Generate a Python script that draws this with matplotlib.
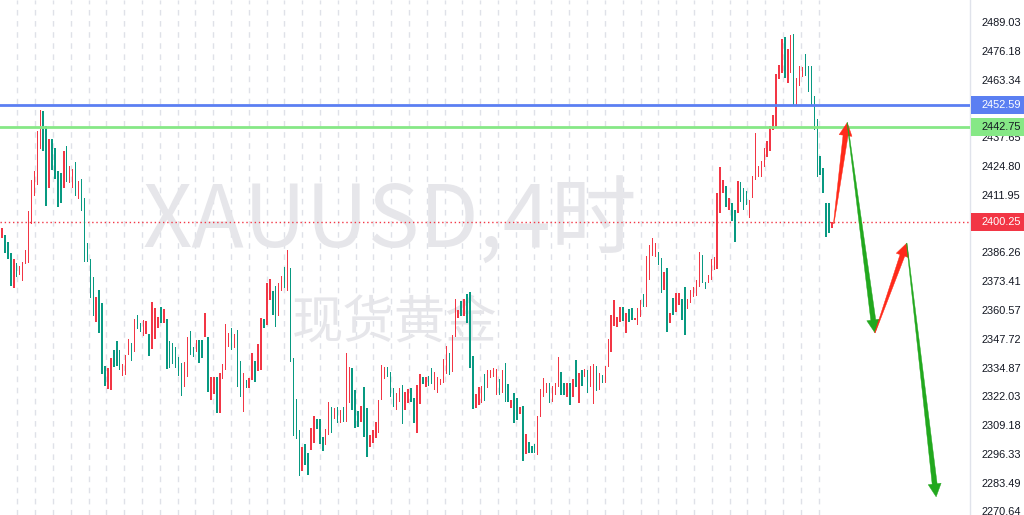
import matplotlib
matplotlib.use("Agg")
import matplotlib.pyplot as plt
import matplotlib.transforms as mtrans
from matplotlib.patches import Polygon, Rectangle
import numpy as np

# ---------------- data (4h candles, red = up, green = down) ----------------
opens = [
    2393.1, 2394.5, 2391.3, 2386.4, 2370.8, 2382.0, 2376.6, 2373.9, 2381.5, 2382.0,
    2399.4, 2411.9, 2416.8, 2432.8, 2449.8, 2443.1, 2415.4, 2437.3, 2433.3, 2423.0,
    2422.1, 2415.4, 2434.2, 2417.7, 2415.4, 2427.0, 2410.5, 2419.4, 2411.0, 2390.9,
    2383.7, 2375.7, 2355.6, 2369.9, 2364.1, 2336.0, 2325.7, 2325.3, 2343.1, 2347.2,
    2343.1, 2331.5, 2332.0, 2340.9, 2346.3, 2342.2, 2358.8, 2355.2, 2349.4, 2350.3,
    2350.3, 2343.6, 2348.1, 2352.9, 2362.3, 2355.2, 2357.0, 2347.2, 2346.3, 2344.5,
    2340.0, 2337.3, 2326.6, 2331.1, 2351.6, 2344.5, 2342.2, 2347.6, 2347.6, 2348.9,
    2348.9, 2320.8, 2323.5, 2331.1, 2315.0, 2330.2, 2334.2, 2344.5, 2352.9, 2344.0,
    2352.0, 2338.2, 2315.5, 2329.7, 2326.2, 2329.7, 2338.2, 2333.8, 2334.2, 2357.0,
    2354.3, 2365.4, 2369.5, 2371.7, 2358.3, 2369.5, 2380.2, 2369.5, 2379.7, 2339.6,
    2321.3, 2307.4, 2289.2, 2301.2, 2297.2, 2298.5, 2301.6, 2312.3, 2312.3, 2304.3,
    2300.7, 2305.2, 2317.7, 2312.3, 2317.7, 2310.5, 2317.7, 2311.0, 2319.5, 2335.1,
    2325.3, 2315.9, 2311.0, 2326.6, 2317.3, 2299.9, 2301.6, 2303.9, 2306.1, 2320.8,
    2330.2, 2335.6, 2333.3, 2326.2, 2316.4, 2319.9, 2327.5, 2316.4, 2319.5, 2326.2,
    2321.7, 2306.1, 2319.0, 2331.1, 2326.6, 2331.5, 2335.1, 2325.3, 2324.0, 2327.5,
    2328.4, 2332.4, 2341.8, 2333.3, 2348.9, 2357.4, 2365.0, 2358.3, 2368.1, 2369.0,
    2340.5, 2317.3, 2318.6, 2319.5, 2332.4, 2326.2, 2330.6, 2331.1, 2323.1, 2330.2,
    2324.0, 2337.3, 2328.0, 2317.3, 2323.9, 2321.7, 2314.6, 2318.2, 2296.5, 2302.1,
    2300.3, 2301.2, 2296.3, 2313.2, 2322.2, 2324.0, 2328.4, 2319.9, 2323.1, 2326.6,
    2333.3, 2328.4, 2322.2, 2328.4, 2322.2, 2338.7, 2319.5, 2334.2, 2331.1, 2334.2,
    2326.6, 2319.0, 2336.0, 2325.3, 2332.0, 2328.4, 2335.6, 2342.2, 2353.9, 2353.4,
    2355.6, 2362.3, 2350.7, 2361.4, 2361.9, 2356.5, 2354.3, 2357.9, 2368.1, 2362.3,
    2374.4, 2385.1, 2384.6, 2386.9, 2384.2, 2369.9, 2379.7, 2355.2, 2366.3, 2360.1,
    2363.2, 2365.9, 2371.2, 2361.4, 2364.1, 2366.8, 2367.2, 2371.2, 2385.5, 2373.5,
    2373.0, 2374.4, 2378.8, 2379.3, 2404.3, 2413.2, 2416.3, 2405.6, 2408.7, 2405.6,
    2404.3, 2418.1, 2415.4, 2414.1, 2402.0, 2410.9, 2419.0, 2420.3, 2420.3, 2424.8,
    2429.3, 2431.9, 2441.3, 2442.6, 2464.0, 2466.7, 2482.8, 2462.3, 2466.7, 2484.1,
    2452.0, 2460.9, 2464.9, 2475.2, 2469.9, 2469.9, 2456.5, 2446.2, 2429.7, 2424.3,
    2408.7, 2408.7, 2397.6,
]
closes = [
    2397.6, 2386.4, 2383.7, 2371.7, 2383.7, 2375.7, 2380.6, 2382.4, 2387.8, 2405.2,
    2419.0, 2423.0, 2440.9, 2450.2, 2431.9, 2407.4, 2437.3, 2423.5, 2419.4, 2406.9,
    2408.7, 2431.9, 2418.1, 2425.2, 2423.9, 2411.9, 2418.6, 2405.2, 2382.4, 2382.4,
    2366.3, 2358.3, 2366.8, 2350.7, 2332.4, 2327.1, 2335.1, 2339.6, 2335.6, 2336.0,
    2334.2, 2336.9, 2340.9, 2348.0, 2338.2, 2357.0, 2352.5, 2351.2, 2356.5, 2356.1,
    2340.5, 2364.6, 2361.9, 2357.9, 2355.2, 2361.4, 2334.7, 2335.1, 2336.9, 2335.1,
    2331.5, 2322.6, 2337.8, 2348.9, 2340.9, 2340.0, 2347.6, 2337.3, 2339.6, 2359.7,
    2324.4, 2331.1, 2331.1, 2315.0, 2332.9, 2336.9, 2354.7, 2350.7, 2343.1, 2350.3,
    2326.6, 2322.2, 2332.9, 2326.2, 2330.6, 2341.8, 2328.9, 2345.8, 2357.4, 2353.0,
    2373.0, 2374.8, 2358.8, 2353.4, 2373.0, 2376.2, 2370.8, 2387.8, 2337.8, 2304.8,
    2303.4, 2286.9, 2299.9, 2291.8, 2287.4, 2308.3, 2313.7, 2307.9, 2301.2, 2298.1,
    2307.9, 2319.9, 2306.1, 2317.3, 2310.5, 2316.4, 2311.0, 2341.8, 2335.6, 2316.4,
    2308.3, 2308.8, 2318.2, 2304.3, 2295.4, 2305.2, 2307.4, 2311.0, 2320.8, 2336.4,
    2335.6, 2331.1, 2322.2, 2317.7, 2324.0, 2326.2, 2310.1, 2324.4, 2325.7, 2319.9,
    2310.6, 2327.5, 2332.4, 2328.0, 2331.1, 2327.1, 2328.0, 2333.3, 2331.1, 2330.2,
    2339.1, 2344.9, 2332.0, 2349.8, 2365.9, 2361.0, 2358.3, 2365.9, 2355.2, 2335.1,
    2316.8, 2323.5, 2326.6, 2327.1, 2320.4, 2334.2, 2334.2, 2335.1, 2334.7, 2323.1,
    2334.2, 2319.9, 2319.9, 2320.8, 2310.6, 2311.9, 2317.7, 2293.6, 2305.5, 2297.2,
    2297.2, 2297.2, 2313.7, 2325.7, 2330.6, 2328.4, 2319.5, 2327.1, 2328.4, 2340.0,
    2323.1, 2323.1, 2328.4, 2318.6, 2330.2, 2326.6, 2332.9, 2327.1, 2334.7, 2324.0,
    2336.0, 2336.9, 2324.9, 2332.9, 2328.4, 2336.0, 2348.0, 2358.8, 2365.4, 2357.9,
    2362.3, 2356.1, 2359.7, 2355.6, 2356.5, 2357.4, 2361.9, 2365.4, 2362.3, 2385.1,
    2390.0, 2393.1, 2390.9, 2381.1, 2368.6, 2377.9, 2351.2, 2359.7, 2358.8, 2368.6,
    2368.6, 2356.5, 2349.8, 2365.9, 2369.9, 2371.2, 2374.4, 2386.9, 2373.0, 2370.3,
    2376.6, 2383.8, 2384.6, 2413.2, 2424.8, 2419.0, 2406.9, 2411.0, 2400.7, 2391.3,
    2418.6, 2409.2, 2405.6, 2407.8, 2410.1, 2420.8, 2440.0, 2425.2, 2427.5, 2433.3,
    2436.4, 2443.1, 2448.0, 2466.3, 2470.3, 2481.9, 2464.5, 2477.4, 2483.7, 2452.5,
    2464.5, 2469.9, 2469.4, 2465.4, 2458.3, 2452.5, 2441.3, 2420.3, 2421.2, 2413.2,
    2393.6, 2395.4, 2400.25,
]

level_blue = 2452.59
level_green = 2442.75
last_price = 2400.25
tick_labels = ["2489.03", "2476.18", "2463.34", "2437.65", "2424.80", "2411.95",
               "2386.26", "2373.41", "2360.57", "2347.72", "2334.87", "2322.03",
               "2309.18", "2296.33", "2283.49", "2270.64"]
watermark_title = "XAUUSD,4时"
watermark_sub = "现货黄金"

# projected path drawn with arrows: (bar position, price)
path_x = [282.6, 287.2, 296.6, 307.4, 317.4]
path_y = [2399.5, 2444.6, 2350.8, 2390.8, 2277.6]
path_colors = ["#ff2a1a", "#22a81e", "#ff2a1a", "#22a81e"]

# ---------------- figure ----------------
W, H = 1024, 515
fig = plt.figure(figsize=(W / 100, H / 100), dpi=100)
fig.patch.set_facecolor("white")
ax = fig.add_axes([0, 0, 970 / W, 1])
ax.set_facecolor("white")
for s in ax.spines.values():
    s.set_visible(False)
ax.spines["right"].set_visible(True)
ax.spines["right"].set_color("#e0e3eb")
ax.spines["right"].set_linewidth(1)
ax.set_xticks([])
ax.set_yticks([])

n = len(opens)
xs = np.arange(n)
ax.set_xlim(-0.68, 328.9)
ax.set_ylim(2269.5, 2499.31)

# vertical dashed grid (one per trading day)
for gx in 5.2 + 6.05 * np.arange(46):
    ax.axvline(gx, color="#dfe1e8", lw=1.0, ls=(0, (4, 4)), zorder=0)

# watermark (axes-fraction placement)
cjk = ["Noto Sans CJK SC", "DejaVu Sans"]
ax.text(390 / 970, 1 - 224 / H, watermark_title, transform=ax.transAxes, fontsize=62,
        color="#e6e6ea", family=cjk, ha="center", va="center", zorder=1)
ax.text(395 / 970, 1 - 324 / H, watermark_sub, transform=ax.transAxes, fontsize=37,
        color="#e6e6ea", family=cjk, ha="center", va="center", zorder=1)

# candles
o = np.array(opens)
c = np.array(closes)
up = c >= o
cols = np.where(up, "#f23645", "#089981")
ax.bar(xs, np.abs(c - o), bottom=np.minimum(o, c), width=0.5, color=cols,
       linewidth=0, zorder=3)

# horizontal levels
ax.axhline(level_blue, color="#5b7ff2", lw=2.0, zorder=4)
ax.axhline(level_green, color="#86e886", lw=2.0, zorder=4)
ax.axhline(last_price, color="#f23645", lw=1.0, ls=(0, (1, 2)), zorder=2)

# tapered arrows
def tapered_arrow(p0, p1, color, tail_w=0.6, body_w=5.0, head_w=13.0, head_len=13.0):
    a = ax.transData.transform(p0)
    b = ax.transData.transform(p1)
    d = (b - a) / np.hypot(*(b - a))
    nrm = np.array([-d[1], d[0]])
    base = b - d * head_len
    pts = [a + nrm * tail_w / 2, base + nrm * body_w / 2, base + nrm * head_w / 2, b,
           base - nrm * head_w / 2, base - nrm * body_w / 2, a - nrm * tail_w / 2]
    pts = ax.transData.inverted().transform(np.array(pts))
    ax.add_patch(Polygon(pts, closed=True, facecolor=color, edgecolor=color,
                         lw=0.3, zorder=6, clip_on=False))

for i in range(len(path_x) - 1):
    tapered_arrow((path_x[i], path_y[i]), (path_x[i + 1], path_y[i + 1]), path_colors[i])

# right price scale
label_font = ["Liberation Sans", "DejaVu Sans"]
trans = mtrans.blended_transform_factory(ax.transAxes, ax.transData)
for lab in tick_labels:
    ax.text(982 / 970, float(lab), lab, transform=trans, fontsize=7.9, family=label_font,
            color="#131722", ha="left", va="center", clip_on=False, zorder=5)

def price_box(price, face, tcolor):
    ax.add_patch(Rectangle((971 / 970, price - 4.0), 60 / 970, 8.0, transform=trans,
                           facecolor=face, edgecolor="none", clip_on=False, zorder=7))
    ax.text(982 / 970, price, f"{price:.2f}", transform=trans, fontsize=7.9,
            family=label_font, color=tcolor, ha="left", va="center", clip_on=False,
            zorder=8)

price_box(level_blue, "#5b7ff2", "white")
price_box(level_green, "#86e886", "#131722")
price_box(last_price, "#f23645", "white")

fig.savefig("out.png", dpi=100, facecolor="white")
